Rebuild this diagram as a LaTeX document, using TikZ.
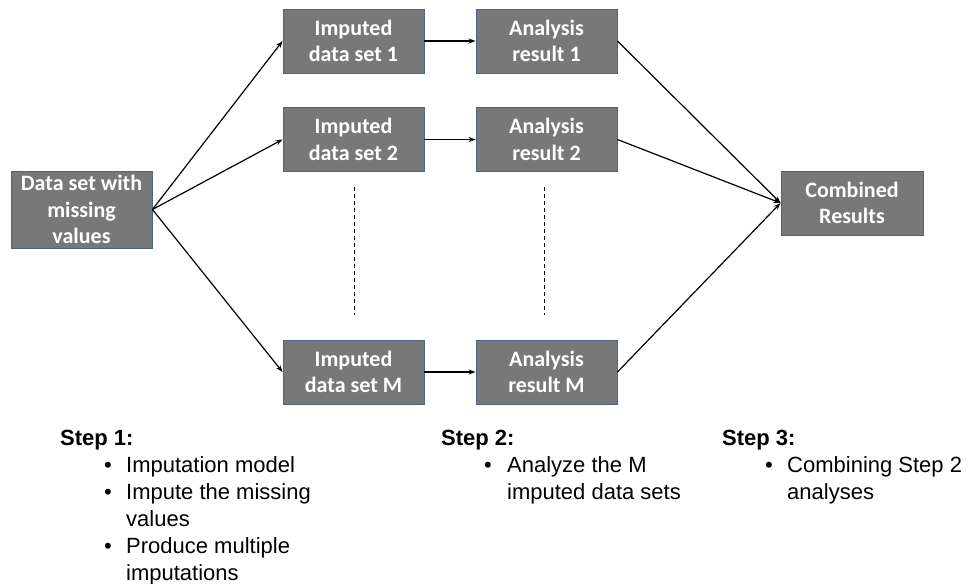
\documentclass[tikz,border=0pt]{standalone}
\usepackage{fontspec}
\setmainfont{Liberation Sans}
\newfontfamily\boxfont{Carlito}
\usetikzlibrary{arrows.meta}
\definecolor{boxfill}{RGB}{120,120,120}
\definecolor{boxline}{RGB}{80,100,130}
\tikzset{
  gbox/.style={draw=boxline, line width=0.9pt, fill=boxfill, text=white, align=center,
    minimum width=141pt, minimum height=64pt, inner sep=0pt,
    font=\boxfont\bfseries\fontsize{22pt}{26.5pt}\selectfont},
  conn/.style={line width=1.2pt, -{Stealth[length=7pt,width=5pt]}},
  dots/.style={line width=0.8pt, dash pattern=on 4pt off 3pt},
  steptitle/.style={anchor=base west, inner sep=0pt, font=\bfseries\fontsize{22pt}{27pt}\selectfont},
  steptext/.style={anchor=base west, inner sep=0pt, font=\fontsize{22pt}{27pt}\selectfont},
}
\begin{document}
\begin{tikzpicture}[x=1pt,y=-1pt]
\useasboundingbox (0,0) rectangle (968,583);
% boxes
\node[gbox, minimum height=77pt] (src) at (81.5,209.5) {Data set with\\missing\\values};
\node[gbox] (i1) at (353.5,41) {Imputed\\data set 1};
\node[gbox] (i2) at (353.5,139.5) {Imputed\\data set 2};
\node[gbox] (iM) at (353.5,372) {Imputed\\data set M};
\node[gbox] (a1) at (546.5,41) {Analysis\\result 1};
\node[gbox] (a2) at (546.5,139.5) {Analysis\\result 2};
\node[gbox] (aM) at (546.5,372) {Analysis\\result M};
\node[gbox, minimum width=142pt] (comb) at (852,203) {Combined\\Results};
% connectors
\draw[conn] (src.east) -- (i1.west);
\draw[conn] (src.east) -- (i2.west);
\draw[conn] (src.east) -- (iM.west);
\draw[conn] (i1.east) -- (a1.west);
\draw[conn] (i2.east) -- (a2.west);
\draw[conn] (iM.east) -- (aM.west);
\draw[conn] (a1.east) -- (comb.west);
\draw[conn] (a2.east) -- (comb.west);
\draw[conn] (aM.east) -- (comb.west);
% dashed ellipsis lines
\coordinate (d1t) at (354,187);
\coordinate (d1b) at (354,315);
\coordinate (d2t) at (544.5,187);
\coordinate (d2b) at (544.5,315);
\draw[dots] (d1t) -- (d1b);
\draw[dots] (d2t) -- (d2b);
% step 1
\node[steptitle] (s1) at (60,445) {Step 1:};
\node[steptext] (s1b1) at (104,472) {•};
\node[steptext] (s1t1) at (126,472) {Imputation model};
\node[steptext] (s1b2) at (104,499) {•};
\node[steptext] (s1t2) at (126,499) {Impute the missing};
\node[steptext] (s1t3) at (126,526) {values};
\node[steptext] (s1b4) at (104,553) {•};
\node[steptext] (s1t4) at (126,553) {Produce multiple};
\node[steptext] (s1t5) at (126,580) {imputations};
% step 2
\node[steptitle] (s2) at (441,445) {Step 2:};
\node[steptext] (s2b1) at (484,472) {•};
\node[steptext] (s2t1) at (507,472) {Analyze the M};
\node[steptext] (s2t2) at (507,499) {imputed data sets};
% step 3
\node[steptitle] (s3) at (722,445) {Step 3:};
\node[steptext] (s3b1) at (765,472) {•};
\node[steptext] (s3t1) at (787,472) {Combining Step 2};
\node[steptext] (s3t2) at (787,499) {analyses};
\end{tikzpicture}
\end{document}
